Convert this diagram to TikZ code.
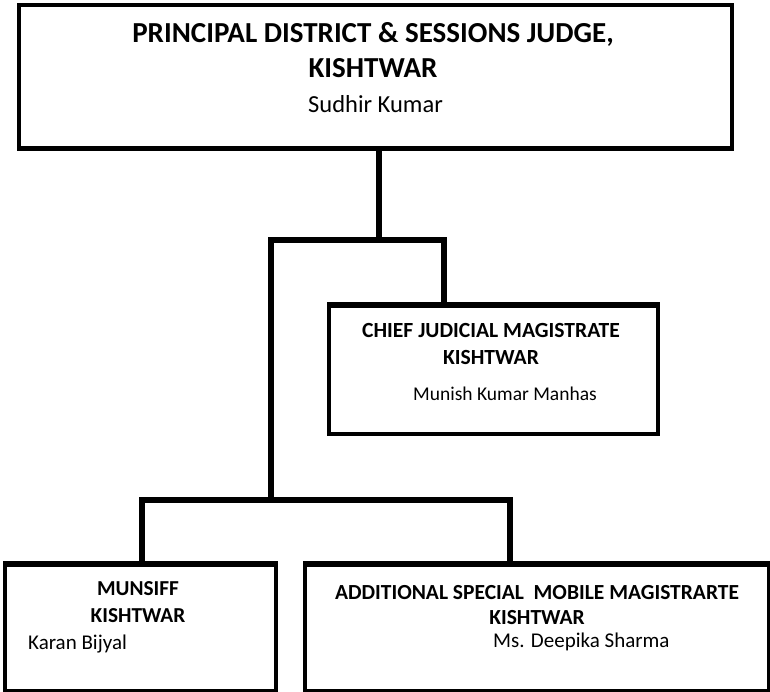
\documentclass[tikz,border=0pt]{standalone}
\usepackage{fontspec}
\setmainfont{Carlito}
\begin{document}
\begin{tikzpicture}[x=1pt,y=-1pt,
  box/.style={draw=black,line width=3.5pt,fill=white,inner sep=0pt,anchor=north west},
  conn/.style={draw=black,line width=5.5pt,line cap=rect},
  hd/.style={font=\fontsize{#1}{#1}\selectfont\bfseries,inner sep=0pt,anchor=base},
  nm/.style={font=\fontsize{#1}{#1}\selectfont,inner sep=0pt,anchor=base west}]
\useasboundingbox[fill=white] (0,0) rectangle (770,691);
% boxes
\node[box,minimum width=713pt,minimum height=143pt] (top) at (17,3) {};
\node[box,minimum width=329pt,minimum height=128pt] (cjm) at (327,304) {};
\node[box,minimum width=271pt,minimum height=126pt] (mun) at (3,563) {};
\node[box,minimum width=464pt,minimum height=126pt] (asm) at (303,563) {};
% junction points
\coordinate (j1) at (379,240);
\coordinate (jl) at (271,240);
\coordinate (jr) at (444,240);
\coordinate (j2) at (271,500);
\coordinate (j2l) at (142,500);
\coordinate (j2r) at (510,500);
% connectors
\draw[conn] (top.south -| j1) -- (j1);
\draw[conn] (jl) -- (jr);
\draw[conn] (jr) -- (cjm.north -| jr);
\draw[conn] (jl) -- (j2);
\draw[conn] (j2l) -- (j2r);
\draw[conn] (j2l) -- (mun.north -| j2l);
\draw[conn] (j2r) -- (asm.north -| j2r);
% redraw box borders on top of connector ends
\draw[line width=3.5pt] (top.south west) -- (top.south east);
\draw[line width=3.5pt] (cjm.north west) -- (cjm.north east);
\draw[line width=3.5pt] (mun.north west) -- (mun.north east);
\draw[line width=3.5pt] (asm.north west) -- (asm.north east);
% texts
\node[hd=29] (t1) at (373,42) {PRINCIPAL DISTRICT \& SESSIONS JUDGE,};
\node[hd=29] (t2) at (373,77) {KISHTWAR};
\node[nm=24.5] (t3) at (308,112) {Sudhir Kumar};
\node[hd=21.6] (c1) at (491,337) {CHIEF JUDICIAL MAGISTRATE};
\node[hd=21.6] (c2) at (491,364) {KISHTWAR};
\node[nm=19.5] (c3) at (413,400) {Munish Kumar Manhas};
\node[hd=21.3] (m1) at (138,595) {MUNSIFF};
\node[hd=21.3] (m2) at (138,622) {KISHTWAR};
\node[nm=21] (m3) at (28,649) {Karan Bijyal};
\node[hd=21.5] (a1) at (537,599) {ADDITIONAL SPECIAL\ \ MOBILE MAGISTRARTE};
\node[hd=21.5] (a2) at (537,624) {KISHTWAR};
\node[nm=21] (a3) at (493,647) {Ms. Deepika Sharma};
\end{tikzpicture}
\end{document}
